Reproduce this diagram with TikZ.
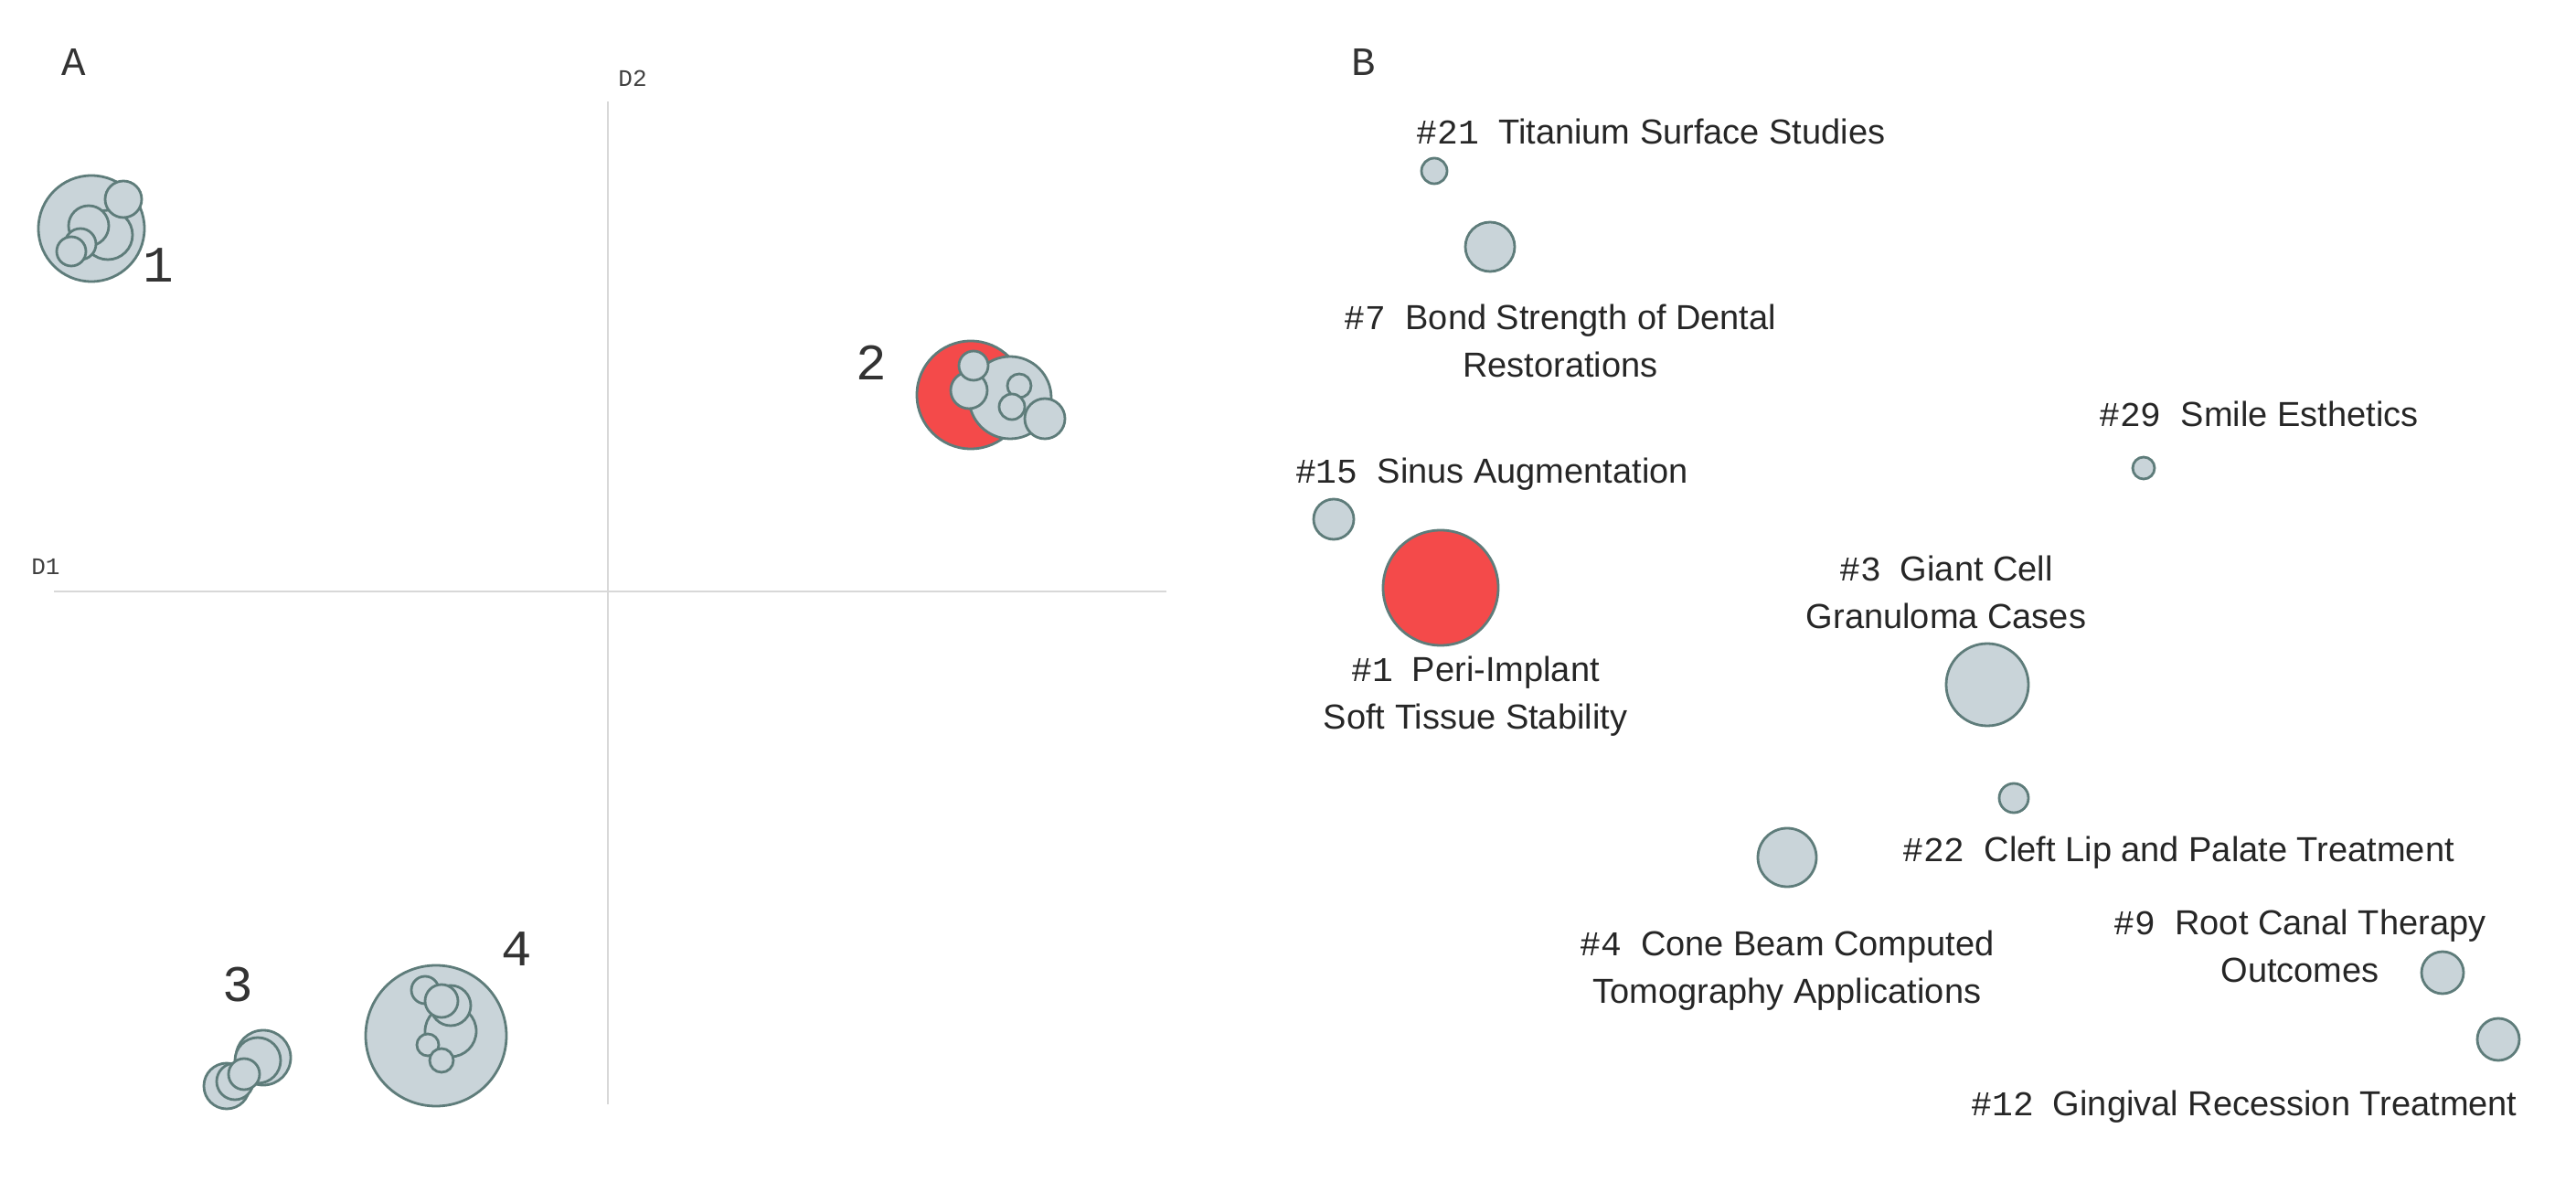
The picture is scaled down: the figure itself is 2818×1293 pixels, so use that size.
\documentclass[tikz,border=0pt]{standalone}
\usepackage{fontspec}
\setmainfont{Liberation Sans}
\newfontfamily\mono{Liberation Mono}
\definecolor{bfill}{HTML}{C9D4D9}
\definecolor{bline}{HTML}{5E7C7A}
\definecolor{rfill}{HTML}{F44A4A}
\definecolor{axis}{HTML}{D8D8D8}
\begin{document}
\begin{tikzpicture}[x=0.5pt,y=-0.5pt,
  bub/.style={circle,draw=bline,line width=1.4pt,fill=bfill,inner sep=0pt,minimum size={#1*0.5pt}},
  rbub/.style={bub=#1,fill=rfill},
  lab/.style={font=\fontsize{19}{26}\selectfont,align=center,text=black!85},
  num/.style={font=\mono\fontsize{28}{30}\selectfont,text=black!80},
  ax/.style={font=\mono\fontsize{13}{15}\selectfont,text=black!75}]
\useasboundingbox (0,0) rectangle (2818,1293);
% Panel A
\node[num,font=\mono\fontsize{22}{24}\selectfont] (A) at (81,68) {A};
\coordinate (v1) at (665,111); \coordinate (v2) at (665,1208);
\coordinate (h1) at (59,647); \coordinate (h2) at (1276,647);
\draw[axis,line width=1.2pt] (v1) -- (v2);
\draw[axis,line width=1.2pt] (h1) -- (h2);
\node[ax] (D2) at (692,86) {D2};
\node[ax] (D1) at (50,620) {D1};
% cluster 1
\node[bub=116] (c1) at (100,250) {};
\node[bub=54] (c1b) at (118,257) {};
\node[bub=44] (c1c) at (97,247) {};
\node[bub=40] (c1a) at (135,218) {};
\node[bub=34] (c1d) at (88,267) {};
\node[bub=32] (c1e) at (78,275) {};
\node[num] (l1) at (173,290) {1};
% cluster 2
\node[rbub=118] (c2r) at (1062,432) {};
\node[bub=90] (c2g) at (1105,435) {};
\node[bub=40] (c2b) at (1060,427) {};
\node[bub=32] (c2a) at (1065,400) {};
\node[bub=26] (c2c) at (1115,422) {};
\node[bub=28] (c2d) at (1107,445) {};
\node[bub=44] (c2e) at (1143,458) {};
\node[num] (l2) at (953,397) {2};
% cluster 3
\node[bub=60] (c3a) at (288,1157) {};
\node[bub=50] (c3b) at (282,1160) {};
\node[bub=50] (c3d) at (248,1188) {};
\node[bub=40] (c3e) at (257,1183) {};
\node[bub=34] (c3c) at (267,1175) {};
\node[num] (l3) at (260,1077) {3};
% cluster 4
\node[bub=154] (c4) at (477,1133) {};
\node[bub=56] (c4d) at (493,1128) {};
\node[bub=44] (c4c) at (493,1100) {};
\node[bub=30] (c4a) at (465,1083) {};
\node[bub=36] (c4b) at (483,1095) {};
\node[bub=24] (c4e) at (468,1143) {};
\node[bub=26] (c4f) at (483,1160) {};
\node[num] (l4) at (565,1038) {4};
% Panel B
\node[num,font=\mono\fontsize{22}{24}\selectfont] (B) at (1492,68) {B};
\node[bub=28] (b21) at (1569,187) {};
\node[lab] (t21) at (1806,144) {{\mono\#21}~ Titanium Surface Studies};
\node[bub=54] (b7) at (1630,270) {};
\node[lab] (t7) at (1707,373) {{\mono\#7}~ Bond Strength of Dental\\Restorations};
\node[bub=24] (b29) at (2345,512) {};
\node[lab] (t29) at (2471,453) {{\mono\#29}~ Smile Esthetics};
\node[bub=44] (b15) at (1459,568) {};
\node[lab] (t15) at (1632,519) {{\mono\#15}~ Sinus Augmentation};
\node[rbub=126] (b1) at (1576,643) {};
\node[lab] (t1) at (1614,762) {{\mono\#1}~ Peri-Implant\\Soft Tissue Stability};
\node[lab] (t3) at (2129,648) {{\mono\#3}~ Giant Cell\\Granuloma Cases};
\node[bub=90] (b3) at (2174,749) {};
\node[bub=32] (b22) at (2203,873) {};
\node[lab] (t22) at (2383,933) {{\mono\#22}~ Cleft Lip and Palate Treatment};
\node[bub=64] (b4) at (1955,938) {};
\node[lab] (t4) at (1955,1062) {{\mono\#4}~ Cone Beam Computed\\Tomography Applications};
\node[lab] (t9) at (2516,1035) {{\mono\#9}~ Root Canal Therapy\\Outcomes};
\node[bub=46] (b9) at (2672,1064) {};
\node[bub=46] (b12) at (2733,1137) {};
\node[lab] (t12) at (2455,1211) {{\mono\#12}~ Gingival Recession Treatment};
\end{tikzpicture}
\end{document}
